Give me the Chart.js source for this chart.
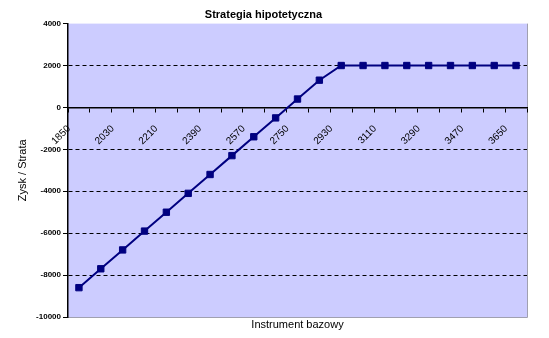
<!DOCTYPE html>
<html><head><meta charset="utf-8">
<script src="https://cdn.jsdelivr.net/npm/chart.js@4"></script>
<style>html,body{margin:0;padding:0;background:#fff;} canvas{display:block;}</style>
</head><body>
<canvas id="c" width="549" height="338"></canvas>
<script>
const categories = ['1850','1940','2030','2120','2210','2300','2390','2480','2570','2660','2750','2840','2930','3020','3110','3200','3290','3380','3470','3560','3650'];
const profitLoss = [-8600,-7700,-6800,-5900,-5000,-4100,-3200,-2300,-1400,-500,400,1300,2000,2000,2000,2000,2000,2000,2000,2000,2000];
const xTickLabels = ['1850','2030','2210','2390','2570','2750','2930','3110','3290','3470','3650'];
const yTickValues = [-10000,-8000,-6000,-4000,-2000,0,2000,4000];
const chartTitle = 'Strategia hipotetyczna';
const xTitle = 'Instrument bazowy';
const yTitle = 'Zysk / Strata';

const FONT = "'Liberation Sans', Arial, sans-serif";
Chart.defaults.font.family = FONT;
Chart.defaults.color = '#000';

const plotBg = {
  id: 'plotBg',
  beforeDraw(chart) {
    const {ctx, chartArea: a} = chart;
    ctx.save();
    ctx.fillStyle = '#CCCCFF';
    ctx.fillRect(a.left, a.top, a.right - a.left, a.bottom - a.top);
    ctx.strokeStyle = '#a0a0b0';
    ctx.lineWidth = 1;
    ctx.beginPath();
    ctx.moveTo(a.left, a.bottom + 0.5);
    ctx.lineTo(a.right + 0.5, a.bottom + 0.5);
    ctx.lineTo(a.right + 0.5, a.top);
    ctx.stroke();
    ctx.restore();
  }
};

new Chart(document.getElementById('c'), {
  type: 'line',
  data: {
    labels: categories,
    datasets: [{
      data: profitLoss,
      borderColor: '#000080',
      backgroundColor: '#000080',
      borderWidth: 2,
      pointStyle: 'rect',
      pointRadius: 4.5,
      pointBackgroundColor: '#000080',
      pointBorderColor: '#000080',
      pointBorderWidth: 1,
      tension: 0,
      fill: false
    }]
  },
  options: {
    responsive: false,
    animation: false,
    events: [],
    layout: { padding: { left: 0, right: 22, top: 0, bottom: 0 } },
    plugins: {
      legend: { display: false },
      tooltip: { enabled: false },
      title: {
        display: true,
        text: chartTitle,
        color: '#000',
        font: { family: FONT, size: 11, weight: 'bold' },
        padding: { top: 8, bottom: 2.4 }
      }
    },
    scales: {
      x: {
        type: 'category',
        position: { y: 0 },
        offset: true,
        grid: { display: true, drawOnChartArea: false, drawTicks: true, tickLength: 4, offset: true, color: '#000', lineWidth: 1 },
        border: { display: true, color: '#000', width: 1.5 },
        ticks: {
          autoSkip: false,
          minRotation: 45,
          maxRotation: 45,
          labelOffset: -10,
          padding: 11.5,
          color: '#000',
          font: { family: FONT, size: 10 },
          callback: function(v, i) { const l = categories[i]; return xTickLabels.includes(l) ? l : ''; }
        },
        afterFit(s) { s.height = 0; }
      },
      x2: {
        type: 'category',
        position: 'bottom',
        offset: true,
        grid: { display: false, drawTicks: false },
        border: { display: false },
        ticks: { display: false },
        title: { display: true, text: xTitle, color: '#000', font: { family: FONT, size: 11 }, padding: { top: 0, bottom: 6 } },
        afterFit(s) { s.height = 21; }
      },
      y: {
        type: 'linear',
        min: -10000,
        max: 4000,
        afterBuildTicks(s) { s.ticks = yTickValues.map(v => ({ value: v })); },
        ticks: {
          color: '#000',
          padding: 2,
          font: { family: FONT, size: 8, weight: 'bold' },
          callback: v => String(v)
        },
        grid: {
          color: ctx => (ctx.tick && [0, 4000, -10000].includes(ctx.tick.value)) ? 'rgba(0,0,0,0)' : '#000',
          lineWidth: 1,
          tickColor: '#000',
          tickLength: 5,
          drawTicks: true
        },
        border: { display: true, color: '#000', width: 1.5, dash: [4, 3] },
        title: { display: true, text: yTitle, color: '#000', font: { family: FONT, size: 11 }, padding: { top: 16, bottom: 0 } },
        afterFit(s) { s.width = 68; }
      }
    }
  },
  plugins: [plotBg]
});
</script>
</body></html>
